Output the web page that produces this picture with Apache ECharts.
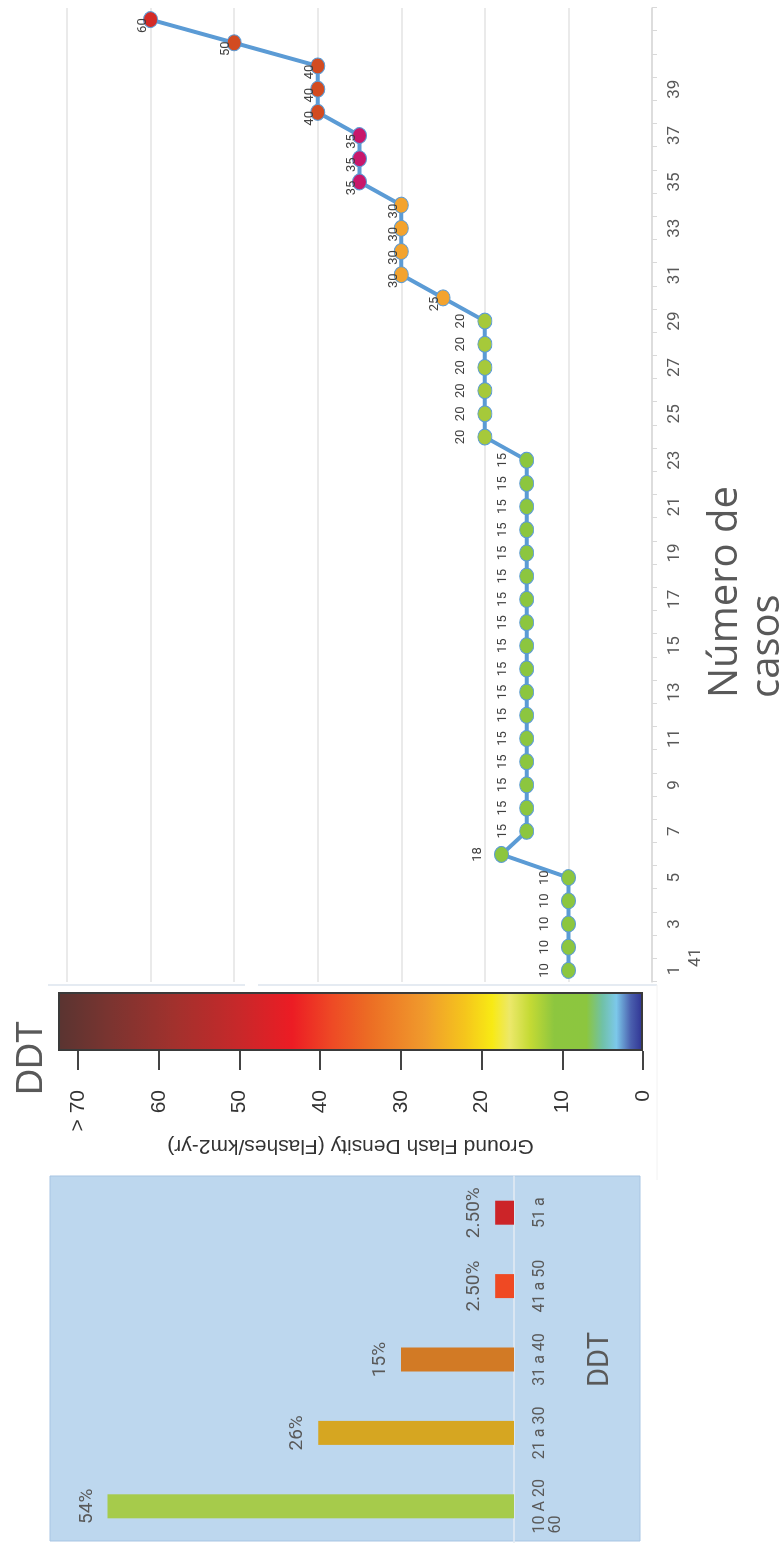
<!DOCTYPE html>
<html><head><meta charset="utf-8">
<script src="https://cdn.jsdelivr.net/npm/echarts@6/dist/echarts.min.js"></script>
<style>
html,body{margin:0;padding:0;background:#fff;overflow:hidden;width:783px;height:1543px;}
#wrap{position:absolute;left:0;top:0;width:1543px;height:783px;transform-origin:0 0;transform:translateY(1543px) rotate(-90deg);}
#chart{width:1543px;height:783px;}
</style></head><body>
<div id="wrap"><div id="chart"></div></div>
<script>
// ---- data ----
const caseCategories = ['1','2','3','4','5','6','7','8','9','10','11','12','13','14','15','16','17','18','19','20','21','22','23','24','25','26','27','28','29','30','31','32','33','34','35','36','37','38','39','40','41','42'];
const ddtValues = [10,10,10,10,10,18,15,15,15,15,15,15,15,15,15,15,15,15,15,15,15,15,15,20,20,20,20,20,20,25,30,30,30,30,35,35,35,40,40,40,50,60];
const barCategories = ['10 A 20','21 a 30','31 a 40','41 a 50','51 a'];
const barValues = [54, 26, 15, 2.5, 2.5];
const barLabels = ['54%','26%','15%','2.50%','2.50%'];
const colorbarTicks = [0,10,20,30,40,50,60,70];
const colorbarTop = 72.5;

// ---- styles ----
const markerColor = {10:'#8cc63f',15:'#8cc63f',18:'#8cc63f',20:'#a6c93a',25:'#f3a32e',30:'#f3a32e',35:'#c8176b',40:'#d24b21',50:'#d24b21',60:'#d42b27'};
const barColors = ['#a6cb4b','#d6a621','#d27a25','#ef4923','#cc2428'];
const colorbarStops = [
  [0,'#2e3192'],[1.5,'#4a5fae'],[3.3,'#7cc8ea'],[5,'#70c1a8'],[7,'#8cc63f'],[11,'#8dc63f'],
  [14,'#c4da34'],[16.5,'#ece86a'],[18.7,'#f8ea14'],[22,'#f5c61c'],[27,'#f09b2c'],[34,'#ec6c24'],
  [38.5,'#ee4a25'],[43.5,'#ec1c24'],[50,'#c8282a'],[58,'#a2312d'],[66,'#7b3430'],[72.5,'#593431']
];
const gray = '#595959';
const FONT = 'Roboto, "Noto Sans", sans-serif';

const chart = echarts.init(document.getElementById('chart'), null, {width:1543, height:783, renderer:'canvas'});

const lineData = ddtValues.map((v) => {
  const item = {value: v, itemStyle: {color: markerColor[v]}};
  if (v > 20) item.label = {distance: 0, offset: [-6, 6]};
  return item;
});

const option = {
  backgroundColor: '#ffffff',
  animation: false,
  title: [
    {text: 'Número de\ncasos', left: 840, top: 700,
     textStyle: {fontFamily: '"Open Sans", sans-serif', fontSize: 40, lineHeight: 42, fontWeight: 'normal', color: gray}},
    {text: 'DDT', left: 443, top: 9,
     textStyle: {fontFamily: '"Liberation Sans", Arial, sans-serif', fontSize: 36, fontWeight: 'normal', color: gray}}
  ],
  graphic: [
    {type: 'rect', z: -10, shape: {x: 2, y: 50, width: 365, height: 590},
     style: {fill: '#bdd7ee', stroke: '#a8c5e3', lineWidth: 1}},
    {type: 'line', z: -10, shape: {x1: 558, y1: 48, x2: 558, y2: 245}, style: {stroke: '#dde4ee', lineWidth: 1.5}},
    {type: 'line', z: -10, shape: {x1: 558, y1: 258, x2: 558, y2: 657}, style: {stroke: '#dde4ee', lineWidth: 1.5}},
    {type: 'line', z: -10, shape: {x1: 363, y1: 657, x2: 558, y2: 657}, style: {stroke: '#f2f2f2', lineWidth: 1}}
  ],
  grid: [
    {left: -3, width: 370, top: 62.2, height: 451.8},
    {left: 492, width: 59, top: 58, height: 585},
    {left: 561, width: 974, top: 67, height: 585}
  ],
  xAxis: [
    {gridIndex: 0, type: 'category', data: barCategories,
     axisLine: {lineStyle: {color: '#e4ebf3', width: 1.5}}, axisTick: {show: false},
     axisLabel: {interval: 0, hideOverlap: false, margin: 18, color: gray, fontFamily: FONT, fontSize: 16,
       formatter: (v, i) => i === 0 ? '{a|' + v + '}\n{b|60}' : v,
       rich: {a: {fontFamily: FONT, fontSize: 16, color: gray}, b: {fontFamily: FONT, fontSize: 16, color: gray, align: 'left'}}},
     name: 'DDT', nameLocation: 'middle', nameGap: 72,
     nameTextStyle: {fontFamily: FONT, fontSize: 29, color: gray}},
    {gridIndex: 1, type: 'category', data: ['DDT'], show: false},
    {gridIndex: 2, type: 'category', data: caseCategories, boundaryGap: true,
     axisLine: {lineStyle: {color: '#d9d9d9', width: 1.5}},
     axisTick: {show: true, interval: 0, length: 5, lineStyle: {color: '#d9d9d9'}},
     axisLabel: {interval: 1, margin: 14, color: gray, fontFamily: FONT, fontSize: 17,
       formatter: (v, i) => i === 0 ? '{a|' + v + '}\n{b|41}' : (i === 40 ? '' : v),
       rich: {a: {fontFamily: FONT, fontSize: 17, color: gray}, b: {fontFamily: FONT, fontSize: 17, color: gray, padding: [4, 0, 0, 26]}}}}
  ],
  yAxis: [
    {gridIndex: 0, type: 'value', min: 0, max: 60, show: false},
    {gridIndex: 1, type: 'value', min: 0, max: colorbarTop, position: 'left',
     axisLine: {show: false}, splitLine: {show: false},
     axisTick: {show: true, customValues: colorbarTicks, length: 19, lineStyle: {color: '#444', width: 2}},
     axisLabel: {customValues: colorbarTicks, margin: 39, color: '#333', fontFamily: '"Liberation Sans", Arial, sans-serif', fontSize: 21,
       formatter: (v) => v === 70 ? '> 70' : String(v)},
     name: 'Ground Flash Density (Flashes/km2-yr)', nameLocation: 'middle', nameRotate: 90, nameGap: 84,
     nameTextStyle: {color: '#333', fontFamily: '"Liberation Sans", Arial, sans-serif', fontSize: 21}},
    {gridIndex: 2, type: 'value', min: 0, max: 70, interval: 10,
     axisLine: {show: false}, axisTick: {show: false}, axisLabel: {show: false},
     splitLine: {show: true, lineStyle: {color: '#e3e3e3', width: 1.5}}}
  ],
  series: [
    {type: 'bar', xAxisIndex: 0, yAxisIndex: 0, barWidth: 24,
     data: barValues.map((v, i) => ({value: v, itemStyle: {color: barColors[i]}})),
     label: {show: true, position: 'top', distance: 11, color: gray, fontFamily: FONT, fontSize: 19,
       formatter: (p) => barLabels[p.dataIndex]}},
    {type: 'bar', xAxisIndex: 1, yAxisIndex: 1, barWidth: '100%', data: [colorbarTop],
     itemStyle: {borderColor: '#3a3a3a', borderWidth: 2,
       color: new echarts.graphic.LinearGradient(0, 1, 0, 0, colorbarStops.map(s => ({offset: s[0] / colorbarTop, color: s[1]})))}},
    {type: 'line', xAxisIndex: 2, yAxisIndex: 2, data: lineData,
     symbol: 'circle', symbolSize: [16, 14],
     lineStyle: {color: '#5b9bd5', width: 4},
     itemStyle: {borderColor: '#5b9bd5', borderWidth: 1},
     label: {show: true, position: 'top', distance: 10, color: '#404040', fontFamily: FONT, fontSize: 13}}
  ]
};
chart.setOption(option);
</script></body></html>
